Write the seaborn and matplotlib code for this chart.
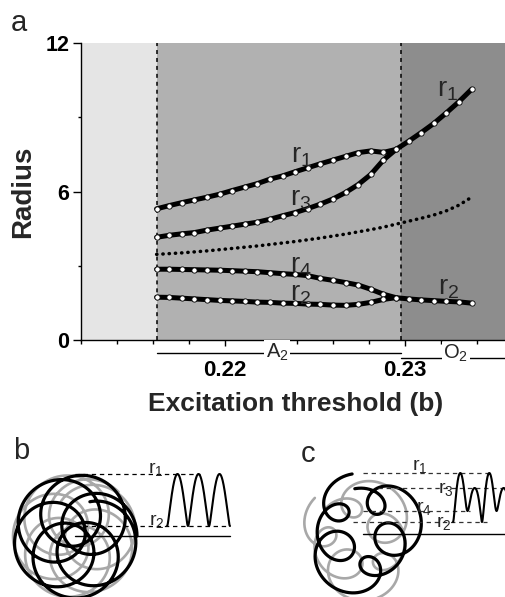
import numpy as np
import pandas as pd
import matplotlib
matplotlib.use("Agg")
import matplotlib.pyplot as plt
import seaborn as sns

# ---------------- panel a : data ----------------
b_grid = [0.2162, 0.2169, 0.2176, 0.2183, 0.2190, 0.2197, 0.2204, 0.2211,
          0.2218, 0.2225, 0.2232, 0.2239, 0.2246, 0.2253, 0.2260, 0.2267,
          0.2274, 0.2281, 0.2288, 0.2295, 0.2302, 0.2309, 0.2316, 0.2323,
          0.2330, 0.2337]
r1_vals = [5.30, 5.43, 5.55, 5.66, 5.77, 5.89, 6.04, 6.18, 6.32, 6.50,
           6.63, 6.80, 6.96, 7.12, 7.27, 7.42, 7.57, 7.64, 7.58, 7.70,
           8.03, 8.38, 8.75, 9.18, 9.63, 10.13]
r3_vals = [4.15, 4.23, 4.29, 4.34, 4.44, 4.52, 4.60, 4.68, 4.76, 4.88,
           5.02, 5.15, 5.31, 5.49, 5.70, 5.96, 6.28, 6.69, 7.27, 7.70]
r4_vals = [2.86, 2.86, 2.85, 2.84, 2.83, 2.82, 2.80, 2.78, 2.76, 2.72,
           2.68, 2.65, 2.60, 2.49, 2.41, 2.32, 2.22, 2.05, 1.85, 1.71]
r2_vals = [1.73, 1.72, 1.69, 1.66, 1.63, 1.60, 1.58, 1.56, 1.53, 1.52,
           1.49, 1.48, 1.45, 1.44, 1.41, 1.40, 1.44, 1.52, 1.64, 1.71,
           1.66, 1.62, 1.59, 1.56, 1.54, 1.49]
core_vals = [3.46, 3.49, 3.52, 3.56, 3.60, 3.65, 3.70, 3.75, 3.80, 3.86,
             3.92, 3.98, 4.05, 4.12, 4.20, 4.28, 4.37, 4.46, 4.56, 4.68,
             4.80, 4.92, 5.05, 5.22, 5.45, 5.77]

x_major_ticks = [0.22, 0.23]
x_major_labels = ["0.22", "0.23"]
x_minor_ticks = [0.212, 0.214, 0.216, 0.218, 0.224, 0.226, 0.228, 0.232, 0.234]
y_major_ticks = [0, 6, 12]
y_major_labels = ["0", "6", "12"]
y_minor_ticks = [3, 9]

b_onset = 0.21622      # left dashed boundary
b_transition = 0.22978  # A2 -> O2 boundary
region_names = ["A$_2$", "O$_2$"]

curve_labels = ["r$_1$", "r$_3$", "r$_4$", "r$_2$", "r$_1$", "r$_2$"]
curve_label_b = [0.22428, 0.22422, 0.22422, 0.22422, 0.23239, 0.23244]
curve_label_r = [7.45, 5.68, 2.97, 1.84, 10.12, 2.12]

# ---------------- panels b, c : meander radii (drawing units) ----------------
meander_b_radii = [62, 10]            # r1, r2
meander_c_radii = [61, 46, 23, 12]    # r1, r3, r4, r2
# rotating-frame sketch terms: centre offset (mean, cos, sin) and loop radius (mean, cos, sin)
meander_c_centre = [35.5, 4.5, 3.0]
meander_c_loop = [18.0, 3.0, -2.5]
meander_c_loop_aspect = 1.2

# ---------------- styling ----------------
sns.set_theme(style="ticks")
plt.rcParams['font.family'] = ['Liberation Sans', 'DejaVu Sans']
plt.rcParams['mathtext.default'] = 'regular'

W, H = 505, 597
fig = plt.figure(figsize=(W / 100, H / 100), dpi=100)

x_left = 0.212
x_right = 0.212 + 424 / 18000
ax = fig.add_axes([81 / W, 1 - 340 / H, (W - 81) / W, (340 - 43) / H])
ax.set_xlim(x_left, x_right)
ax.set_ylim(0, 12)

ax.axvspan(x_left, b_onset, color='#e5e5e5', lw=0, zorder=0)
ax.axvspan(b_onset, b_transition, color='#b1b1b1', lw=0, zorder=0)
ax.axvspan(b_transition, x_right, color='#8d8d8d', lw=0, zorder=0)
for xv in (b_onset, b_transition):
    ax.axvline(xv, color='black', ls=(0, (2.6, 2.6)), lw=1.1, zorder=1)

# dotted central curve
sns.lineplot(x=b_grid, y=core_vals, ax=ax, color='black', lw=2.5,
             ls=(0, (0.1, 1.7)), dash_capstyle='round', zorder=2)

mk = dict(color='black', lw=3.6, marker='o', markersize=3.8,
          markerfacecolor='white', markeredgecolor='black', markeredgewidth=0.6,
          zorder=3)
n_branch = len(r3_vals)
sns.lineplot(x=b_grid[:n_branch], y=r3_vals, ax=ax, **mk)
sns.lineplot(x=b_grid[:n_branch], y=r4_vals, ax=ax, **mk)
sns.lineplot(x=b_grid, y=r1_vals, ax=ax, **mk)
sns.lineplot(x=b_grid, y=r2_vals, ax=ax, **mk)

for lab, xb, yr in zip(curve_labels, curve_label_b, curve_label_r):
    ax.text(xb, yr, lab, fontsize=20, ha='center', va='center', zorder=4)

for s in ('top', 'right'):
    ax.spines[s].set_visible(False)
for s in ('left', 'bottom'):
    ax.spines[s].set_linewidth(1.0)
    ax.spines[s].set_color('black')

ax.set_xticks(x_major_ticks)
ax.set_xticklabels(x_major_labels, fontsize=16, fontweight='bold')
ax.set_xticks(x_minor_ticks, minor=True)
ax.set_yticks(y_major_ticks)
ax.set_yticklabels(y_major_labels, fontsize=15.5, fontweight='bold')
ax.set_yticks(y_minor_ticks, minor=True)
ax.tick_params(axis='x', which='major', direction='out', length=4.3, width=1, pad=10.0, colors='black')
ax.tick_params(axis='x', which='minor', direction='out', length=2.9, width=1, colors='black')
ax.tick_params(axis='y', which='major', direction='out', length=5.5, width=1, pad=3.0, colors='black')
ax.tick_params(axis='y', which='minor', direction='out', length=2.5, width=1, colors='black')
ax.set_xlabel("")
ax.set_ylabel("")

# regime bars under the axis
trans = ax.get_xaxis_transform()
ax.plot([b_onset, b_transition], [-0.0428, -0.0428], transform=trans, color='black', lw=1.0, clip_on=False)
ax.plot([b_transition, x_right], [-0.0616, -0.0616], transform=trans, color='black', lw=1.0, clip_on=False)
ax.text(0.22289, -0.040, region_names[0], transform=trans, fontsize=14.5, ha='center', va='center',
        bbox=dict(facecolor='white', edgecolor='none', pad=0.8), clip_on=False)
ax.text(0.23283, -0.046, region_names[1], transform=trans, fontsize=14.5, ha='center', va='center',
        bbox=dict(facecolor='white', edgecolor='none', pad=0.8), clip_on=False)

# ---------------- overlay in pixel coordinates ----------------
ov = fig.add_axes([0, 0, 1, 1], zorder=5)
ov.set_xlim(0, W)
ov.set_ylim(H, 0)
ov.axis('off')
ov.patch.set_alpha(0)

ov.text(19, 23, "a", fontsize=21, ha='center', va='center')
ov.text(21, 451, "b", fontsize=21, ha='center', va='center')
ov.text(308, 454, "c", fontsize=21, ha='center', va='center')
ov.text(23, 192, "Radius", fontsize=20, fontweight='bold', rotation=90, ha='center', va='center')
ov.text(296, 404, "Excitation threshold (b)", fontsize=19, fontweight='bold', ha='center', va='center')

# ---- panel b ----
cxb, cyb = 75, 536
b_r1, b_r2 = meander_b_radii
a_b = (b_r1 + b_r2) / 2
c_b = (b_r1 - b_r2) / 2
n_b = 5.3
tt = np.linspace(0, 2 * np.pi, 2000)
for rot, col, lw, zo in ((np.pi / n_b + 0.2, '#a8a8a8', 1.9, 1), (0.0, 'black', 2.3, 2)):
    z = np.exp(1j * (tt + rot)) * (c_b + a_b * np.exp(1j * n_b * tt))
    sns.lineplot(x=cxb + z.real, y=cyb - z.imag, ax=ov, sort=False, estimator=None,
                 color=col, lw=lw, zorder=zo)
ov.plot([cxb, 230], [cyb, cyb], color='black', lw=1.0)
ov.plot([cxb, 200], [cyb - b_r1, cyb - b_r1], color='black', lw=0.9, ls=(0, (3.5, 3)))
ov.plot([cxb, 226], [cyb - b_r2, cyb - b_r2], color='black', lw=0.9, ls=(0, (3.5, 3)))
th = np.linspace(np.pi, 7 * np.pi, 800)
rad_b = np.abs(c_b + a_b * np.exp(1j * th))
sns.lineplot(x=167 + (th - np.pi) / (2 * np.pi) * 21, y=cyb - rad_b, ax=ov, sort=False,
             estimator=None, color='black', lw=1.5)
ov.text(156, 469, "r$_1$", fontsize=14, ha='center', va='center')
ov.text(157, 521, "r$_2$", fontsize=14, ha='center', va='center')

# ---- panel c ----
cxc, cyc = 363, 534
kappa = 0.4


def w_c(theta):
    cen = meander_c_centre[0] + meander_c_centre[1] * np.cos(theta) + meander_c_centre[2] * np.sin(theta)
    loop = meander_c_loop[0] + meander_c_loop[1] * np.cos(theta) + meander_c_loop[2] * np.sin(theta)
    return cen + loop * (np.cos(2 * theta) + 1j * meander_c_loop_aspect * np.sin(2 * theta))


thc = np.linspace(0, 5 * np.pi, 3000)
for rot, col, lw, zo, sx, sy in ((0.63 + 1.75, '#a8a8a8', 1.9, 1, -4, 6), (1.75, 'black', 2.3, 2, 0, 0)):
    zc = np.exp(1j * (kappa * thc + rot)) * w_c(thc)
    sns.lineplot(x=cxc + sx + zc.real, y=cyc + sy - zc.imag, ax=ov, sort=False, estimator=None,
                 color=col, lw=lw, zorder=zo)
c_r1, c_r3, c_r4, c_r2 = meander_c_radii
ov.plot([cxc, 505], [cyc, cyc], color='black', lw=1.0)
dash = dict(color='#333333', lw=0.9, ls=(0, (3.5, 3)))
ov.plot([cxc, 493], [cyc - c_r1, cyc - c_r1], **dash)
ov.plot([378, 505], [cyc - c_r3, cyc - c_r3], **dash)
ov.plot([cxc, 470], [cyc - c_r4, cyc - c_r4], **dash)
ov.plot([353, 487], [cyc - c_r2, cyc - c_r2], **dash)
ths = np.linspace(-np.pi / 2, -np.pi / 2 + 2 * np.pi * 57 / 29, 800)
rad_c = np.abs(w_c(ths))
sns.lineplot(x=453 + (ths + np.pi / 2) / (2 * np.pi) * 29, y=cyc - rad_c, ax=ov, sort=False,
             estimator=None, color='black', lw=1.5)
ov.text(420, 466, "r$_1$", fontsize=14, ha='center', va='center')
ov.text(446, 489, "r$_3$", fontsize=14, ha='center', va='center')
ov.text(424, 508, "r$_4$", fontsize=14, ha='center', va='center')
ov.text(444, 523, "r$_2$", fontsize=14, ha='center', va='center')

ov.set_xlabel("")
ov.set_ylabel("")

fig.savefig("out.png", dpi=100)
